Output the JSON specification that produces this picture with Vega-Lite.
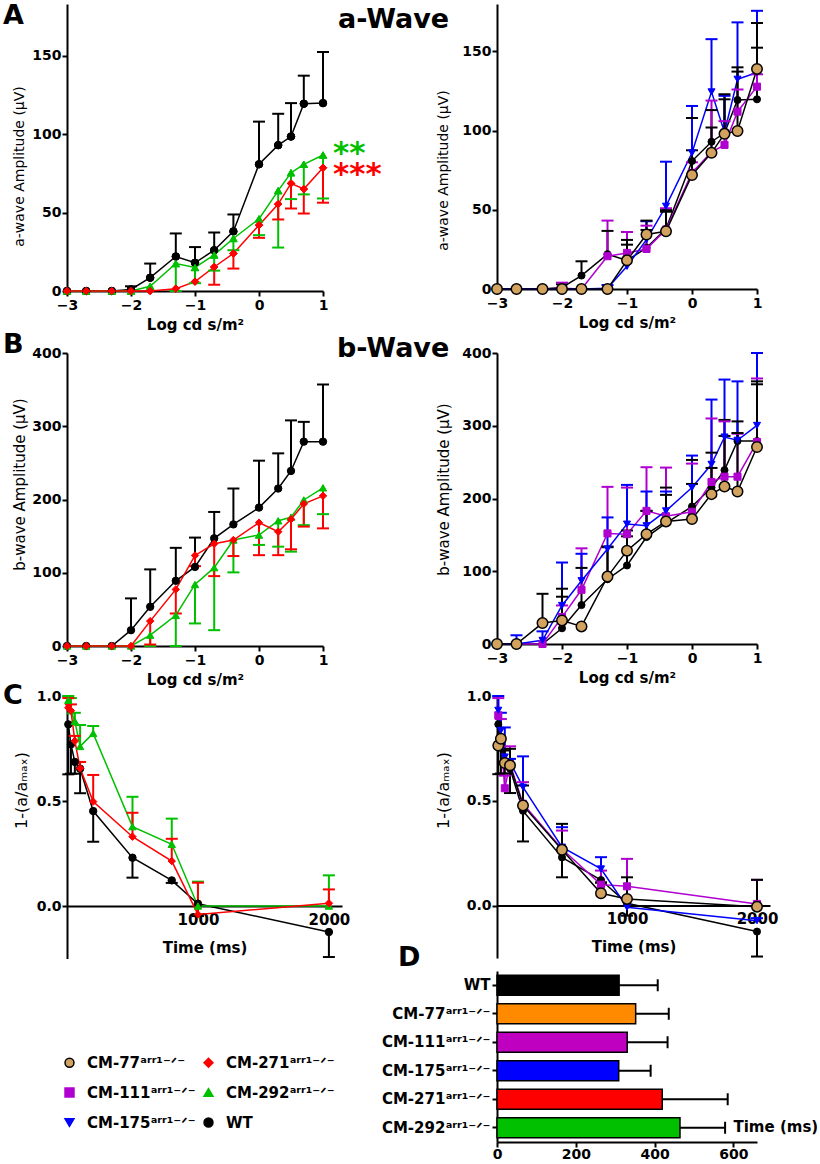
{
"$schema":"https://vega.github.io/schema/vega-lite/v6.json",
"padding":{"left":3,"top":2,"right":0,"bottom":0},
"autosize":{"type":"pad"},
"background":"white",
"columns":2,
"spacing":{"row":12,"column":155},
"bounds":"flush",
"align":"each",
"datasets":{
"awave":[
{"strain":"WT","x":-3,"y":0,"err":null},{"strain":"WT","x":-2.7,"y":0,"err":null},{"strain":"WT","x":-2.3,"y":0,"err":null},{"strain":"WT","x":-2,"y":1,"err":3},{"strain":"WT","x":-1.7,"y":8.5,"err":17.5},{"strain":"WT","x":-1.3,"y":22,"err":36.7},{"strain":"WT","x":-1,"y":18,"err":28},{"strain":"WT","x":-0.7,"y":26,"err":37.3},{"strain":"WT","x":-0.4,"y":38,"err":48.8},{"strain":"WT","x":0,"y":80.8,"err":108},{"strain":"WT","x":0.3,"y":93,"err":113},{"strain":"WT","x":0.5,"y":98.5,"err":119.8},{"strain":"WT","x":0.7,"y":119.4,"err":137.3},{"strain":"WT","x":1,"y":119.8,"err":152.4},
{"strain":"CM-111","x":-3,"y":0,"err":null},{"strain":"CM-111","x":-2.7,"y":0,"err":null},{"strain":"CM-111","x":-2.3,"y":0,"err":null},{"strain":"CM-111","x":-2,"y":0.5,"err":4},{"strain":"CM-111","x":-1.7,"y":0,"err":null},{"strain":"CM-111","x":-1.3,"y":20.7,"err":43.2},{"strain":"CM-111","x":-1,"y":22.8,"err":36},{"strain":"CM-111","x":-0.7,"y":25.3,"err":40},{"strain":"CM-111","x":-0.4,"y":37.5,"err":51},{"strain":"CM-111","x":0,"y":73.4,"err":80},{"strain":"CM-111","x":0.3,"y":86.5,"err":119},{"strain":"CM-111","x":0.5,"y":91,"err":106},{"strain":"CM-111","x":0.7,"y":112,"err":126},{"strain":"CM-111","x":1,"y":127.8,"err":135.6},
{"strain":"CM-175","x":-3,"y":0,"err":null},{"strain":"CM-175","x":-2.7,"y":0,"err":null},{"strain":"CM-175","x":-2.3,"y":0,"err":null},{"strain":"CM-175","x":-2,"y":0,"err":null},{"strain":"CM-175","x":-1.7,"y":0,"err":null},{"strain":"CM-175","x":-1.3,"y":0.5,"err":2.5},{"strain":"CM-175","x":-1,"y":14.3,"err":null},{"strain":"CM-175","x":-0.7,"y":31.2,"err":42.8},{"strain":"CM-175","x":-0.4,"y":52.3,"err":80.4},{"strain":"CM-175","x":0,"y":86,"err":115.6},{"strain":"CM-175","x":0.3,"y":124.5,"err":157.8},{"strain":"CM-175","x":0.5,"y":99,"err":122},{"strain":"CM-175","x":0.7,"y":132.5,"err":168.4},{"strain":"CM-175","x":1,"y":136.7,"err":175.7},
{"strain":"CM-292","x":-3,"y":0,"err":null},{"strain":"CM-292","x":-2.7,"y":0,"err":null},{"strain":"CM-292","x":-2.3,"y":0,"err":null},{"strain":"CM-292","x":-2,"y":0,"err":null},{"strain":"CM-292","x":-1.7,"y":3,"err":null},{"strain":"CM-292","x":-1.3,"y":17.5,"err":0},{"strain":"CM-292","x":-1,"y":15,"err":5},{"strain":"CM-292","x":-0.7,"y":23,"err":13},{"strain":"CM-292","x":-0.4,"y":33.5,"err":26},{"strain":"CM-292","x":0,"y":46,"err":35.6},{"strain":"CM-292","x":0.3,"y":64,"err":27.7},{"strain":"CM-292","x":0.5,"y":75.4,"err":58.6},{"strain":"CM-292","x":0.7,"y":80.8,"err":61.6},{"strain":"CM-292","x":1,"y":86.7,"err":59},
{"strain":"CM-271","x":-3,"y":0,"err":null},{"strain":"CM-271","x":-2.7,"y":0,"err":null},{"strain":"CM-271","x":-2.3,"y":0,"err":null},{"strain":"CM-271","x":-2,"y":0,"err":null},{"strain":"CM-271","x":-1.7,"y":0,"err":null},{"strain":"CM-271","x":-1.3,"y":1.5,"err":null},{"strain":"CM-271","x":-1,"y":6,"err":null},{"strain":"CM-271","x":-0.7,"y":15.3,"err":4},{"strain":"CM-271","x":-0.4,"y":23.9,"err":14.3},{"strain":"CM-271","x":0,"y":42,"err":33.9},{"strain":"CM-271","x":0.3,"y":55.4,"err":45.6},{"strain":"CM-271","x":0.5,"y":68.6,"err":52.6},{"strain":"CM-271","x":0.7,"y":65,"err":49.4},{"strain":"CM-271","x":1,"y":78.6,"err":56.3},
{"strain":"CM-77","x":-3,"y":0,"err":null},{"strain":"CM-77","x":-2.7,"y":0,"err":null},{"strain":"CM-77","x":-2.3,"y":0,"err":null},{"strain":"CM-77","x":-2,"y":0,"err":null},{"strain":"CM-77","x":-1.7,"y":0,"err":null},{"strain":"CM-77","x":-1.3,"y":0,"err":null},{"strain":"CM-77","x":-1,"y":18.1,"err":31},{"strain":"CM-77","x":-0.7,"y":34.4,"err":43.2},{"strain":"CM-77","x":-0.4,"y":36.5,"err":49.8},{"strain":"CM-77","x":0,"y":72,"err":87.6},{"strain":"CM-77","x":0.3,"y":86,"err":102},{"strain":"CM-77","x":0.5,"y":98,"err":123},{"strain":"CM-77","x":0.7,"y":99.8,"err":140},{"strain":"CM-77","x":1,"y":139,"err":168}
],
"bwave":[
{"strain":"WT","x":-3,"y":0,"err":null},{"strain":"WT","x":-2.7,"y":0,"err":null},{"strain":"WT","x":-2.3,"y":0,"err":null},{"strain":"WT","x":-2,"y":21.6,"err":65},{"strain":"WT","x":-1.7,"y":53.5,"err":104.6},{"strain":"WT","x":-1.3,"y":89,"err":134},{"strain":"WT","x":-1,"y":108,"err":148},{"strain":"WT","x":-0.7,"y":147,"err":183},{"strain":"WT","x":-0.4,"y":166,"err":215},{"strain":"WT","x":0,"y":189,"err":253},{"strain":"WT","x":0.3,"y":215,"err":263},{"strain":"WT","x":0.5,"y":239,"err":308},{"strain":"WT","x":0.7,"y":279,"err":306},{"strain":"WT","x":1,"y":279,"err":357},
{"strain":"CM-111","x":-3,"y":0,"err":null},{"strain":"CM-111","x":-2.7,"y":0,"err":null},{"strain":"CM-111","x":-2.3,"y":0,"err":null},{"strain":"CM-111","x":-2,"y":37,"err":53},{"strain":"CM-111","x":-1.7,"y":74.5,"err":131.5},{"strain":"CM-111","x":-1.3,"y":152,"err":216},{"strain":"CM-111","x":-1,"y":151,"err":215},{"strain":"CM-111","x":-0.7,"y":183,"err":243},{"strain":"CM-111","x":-0.4,"y":175.6,"err":242.5},{"strain":"CM-111","x":0,"y":181.7,"err":248},{"strain":"CM-111","x":0.3,"y":222.8,"err":310},{"strain":"CM-111","x":0.5,"y":230,"err":306},{"strain":"CM-111","x":0.7,"y":230,"err":289},{"strain":"CM-111","x":1,"y":277.6,"err":365},
{"strain":"CM-175","x":-3,"y":0,"err":null},{"strain":"CM-175","x":-2.7,"y":0,"err":12},{"strain":"CM-175","x":-2.3,"y":5,"err":17.4},{"strain":"CM-175","x":-2,"y":53,"err":112},{"strain":"CM-175","x":-1.7,"y":87,"err":124},{"strain":"CM-175","x":-1.3,"y":130.6,"err":174},{"strain":"CM-175","x":-1,"y":164.8,"err":218.7},{"strain":"CM-175","x":-0.7,"y":162.6,"err":209.6},{"strain":"CM-175","x":-0.4,"y":183,"err":209.6},{"strain":"CM-175","x":0,"y":215,"err":259},{"strain":"CM-175","x":0.3,"y":247,"err":336},{"strain":"CM-175","x":0.5,"y":284.5,"err":363.5},{"strain":"CM-175","x":0.7,"y":280,"err":361},{"strain":"CM-175","x":1,"y":300.5,"err":400},
{"strain":"CM-292","x":-3,"y":0,"err":null},{"strain":"CM-292","x":-2.7,"y":0,"err":null},{"strain":"CM-292","x":-2.3,"y":0,"err":null},{"strain":"CM-292","x":-2,"y":0,"err":null},{"strain":"CM-292","x":-1.7,"y":14.8,"err":0},{"strain":"CM-292","x":-1.3,"y":42,"err":0},{"strain":"CM-292","x":-1,"y":84,"err":30.8},{"strain":"CM-292","x":-0.7,"y":107,"err":21.6},{"strain":"CM-292","x":-0.4,"y":144.7,"err":100.5},{"strain":"CM-292","x":0,"y":151.5,"err":138},{"strain":"CM-292","x":0.3,"y":171,"err":135.6},{"strain":"CM-292","x":0.5,"y":175.7,"err":128.8},{"strain":"CM-292","x":0.7,"y":199.4,"err":165},{"strain":"CM-292","x":1,"y":216,"err":180},
{"strain":"CM-271","x":-3,"y":0,"err":null},{"strain":"CM-271","x":-2.7,"y":0,"err":null},{"strain":"CM-271","x":-2.3,"y":0,"err":null},{"strain":"CM-271","x":-2,"y":0,"err":null},{"strain":"CM-271","x":-1.7,"y":34,"err":2},{"strain":"CM-271","x":-1.3,"y":77.2,"err":44.4},{"strain":"CM-271","x":-1,"y":123.6,"err":109},{"strain":"CM-271","x":-0.7,"y":139.5,"err":95.4},{"strain":"CM-271","x":-0.4,"y":144.7,"err":122.8},{"strain":"CM-271","x":0,"y":168.4,"err":124},{"strain":"CM-271","x":0.3,"y":156,"err":124},{"strain":"CM-271","x":0.5,"y":173,"err":132},{"strain":"CM-271","x":0.7,"y":194,"err":163},{"strain":"CM-271","x":1,"y":205,"err":160.6},
{"strain":"CM-77","x":-3,"y":0,"err":null},{"strain":"CM-77","x":-2.7,"y":0,"err":null},{"strain":"CM-77","x":-2.3,"y":28.8,"err":69},{"strain":"CM-77","x":-2,"y":32.4,"err":76},{"strain":"CM-77","x":-1.7,"y":24.2,"err":null},{"strain":"CM-77","x":-1.3,"y":92.7,"err":133},{"strain":"CM-77","x":-1,"y":128.3,"err":156},{"strain":"CM-77","x":-0.7,"y":151,"err":183},{"strain":"CM-77","x":-0.4,"y":168.5,"err":205},{"strain":"CM-77","x":0,"y":171.7,"err":220},{"strain":"CM-77","x":0.3,"y":206,"err":242},{"strain":"CM-77","x":0.5,"y":216.4,"err":286},{"strain":"CM-77","x":0.7,"y":209.6,"err":290},{"strain":"CM-77","x":1,"y":270.8,"err":361}
],
"recovery":[
{"strain":"WT","t":10,"v":0.865,"e":0.627},{"strain":"WT","t":30,"v":0.77,"e":0.63},{"strain":"WT","t":60,"v":0.686,"e":0.63},{"strain":"WT","t":100,"v":0.654,"e":0.537},{"strain":"WT","t":200,"v":0.452,"e":0.306},{"strain":"WT","t":500,"v":0.23,"e":0.135},{"strain":"WT","t":800,"v":0.122,"e":0.11},{"strain":"WT","t":1000,"v":0.011,"e":-0.048},{"strain":"WT","t":2000,"v":-0.124,"e":-0.243},
{"strain":"CM-111","t":10,"v":0.908,"e":0.99},{"strain":"CM-111","t":30,"v":0.8,"e":0.89},{"strain":"CM-111","t":60,"v":0.56,"e":0.62},{"strain":"CM-111","t":100,"v":0.677,"e":0.76},{"strain":"CM-111","t":200,"v":0.486,"e":0.589},{"strain":"CM-111","t":500,"v":0.27,"e":0.358},{"strain":"CM-111","t":800,"v":0.1,"e":0.167},{"strain":"CM-111","t":1000,"v":0.092,"e":0.223},{"strain":"CM-111","t":2000,"v":0.008,"e":0.123},
{"strain":"CM-175","t":10,"v":0.932,"e":1.0},{"strain":"CM-175","t":30,"v":0.836,"e":0.92},{"strain":"CM-175","t":60,"v":0.709,"e":0.85},{"strain":"CM-175","t":100,"v":0.685,"e":0.7},{"strain":"CM-175","t":200,"v":0.565,"e":0.712},{"strain":"CM-175","t":500,"v":0.279,"e":0.374},{"strain":"CM-175","t":800,"v":0.175,"e":0.231},{"strain":"CM-175","t":1000,"v":-0.008,"e":null},{"strain":"CM-175","t":2000,"v":-0.072,"e":-0.06},
{"strain":"CM-292","t":10,"v":0.98,"e":1.0},{"strain":"CM-292","t":30,"v":0.93,"e":0.99},{"strain":"CM-292","t":60,"v":0.88,"e":0.92},{"strain":"CM-292","t":100,"v":0.76,"e":0.862},{"strain":"CM-292","t":200,"v":0.822,"e":0.857},{"strain":"CM-292","t":500,"v":0.378,"e":0.52},{"strain":"CM-292","t":800,"v":0.294,"e":0.416},{"strain":"CM-292","t":1000,"v":0,"e":0.116},{"strain":"CM-292","t":2000,"v":0,"e":0.146},
{"strain":"CM-271","t":10,"v":0.944,"e":0.99},{"strain":"CM-271","t":30,"v":0.93,"e":0.96},{"strain":"CM-271","t":60,"v":0.786,"e":0.81},{"strain":"CM-271","t":100,"v":0.656,"e":0.686},{"strain":"CM-271","t":200,"v":0.497,"e":0.624},{"strain":"CM-271","t":500,"v":0.33,"e":0.444},{"strain":"CM-271","t":800,"v":0.214,"e":0.32},{"strain":"CM-271","t":1000,"v":-0.04,"e":0.111},{"strain":"CM-271","t":2000,"v":0.013,"e":0.079},
{"strain":"CM-77","t":10,"v":0.764,"e":null},{"strain":"CM-77","t":30,"v":0.796,"e":null},{"strain":"CM-77","t":60,"v":0.68,"e":0.74},{"strain":"CM-77","t":100,"v":0.669,"e":0.748},{"strain":"CM-77","t":200,"v":0.478,"e":0.573},{"strain":"CM-77","t":500,"v":0.266,"e":0.39},{"strain":"CM-77","t":800,"v":0.059,"e":0.11},{"strain":"CM-77","t":1000,"v":0.032,"e":0.135},{"strain":"CM-77","t":2000,"v":-0.005,"e":0.123}
],
"halftime":[
{"group":"WT","mean":310,"err":408},{"group":"CM-77","mean":352,"err":436},{"group":"CM-111","mean":330.5,"err":433},{"group":"CM-175","mean":309,"err":390},{"group":"CM-271","mean":419.5,"err":585.6},{"group":"CM-292","mean":464.5,"err":579}
]
},
"concat":[
{
"width":256,"height":287,
"title":{"text":"A","anchor":"start","frame":"group","offset":0,"baseline":"alphabetic","dx":-64,"dy":47,"fontSize":27,"font":"DejaVu Sans","fontWeight":"bold","color":"#000000"},
"data":{"name":"awave"},
"encoding":{
"x":{"field":"x","type":"quantitative","scale":{"domain":[-3,1],"nice":false,"zero":false},"axis":{"values":[-3,-2,-1,0,1],"title":"Log cd s/m²","labelPadding":2,"titlePadding":5}},
"y":{"field":"y","type":"quantitative","scale":{"domain":[0,183],"nice":false},"axis":{"values":[0,50,100,150],"title":"a-wave Amplitude (µV)","titleFontSize":14,"titleX":-48,"titleY":162,"titleBaseline":"middle"}}
},
"layer":[
{"transform":[{"filter":{"field":"strain","oneOf":["WT","CM-292","CM-271"]}}],"mark":{"type":"point","filled":true,"opacity":1,"size":55,"strokeWidth":1},"encoding":{
"stroke":{"field":"strain","type":"nominal","scale":{"domain":["CM-77","CM-111","CM-175","CM-271","CM-292","WT"],"range":["#000000","#b000d0","#0000ff","#ff0000","#00c000","#000000"]},"legend":{"orient":"none","legendX":-5,"legendY":1051,"columns":2,"title":null,"labelExpr":"datum.label == 'WT' ? 'WT' : datum.label + 'ᵃʳʳ¹⁻ᐟ⁻'","labelFont":"DejaVu Sans","labelFontWeight":"bold","labelFontSize":15,"labelColor":"#000000","labelLimit":300,"labelOffset":10,"symbolSize":80,"symbolStrokeWidth":1.5,"rowPadding":14,"columnPadding":5,"padding":0}},
"fill":{"field":"strain","type":"nominal","scale":{"domain":["CM-77","CM-111","CM-175","CM-271","CM-292","WT"],"range":["#d2a35f","#b000d0","#0000ff","#ff0000","#00c000","#000000"]},"legend":{"orient":"none","legendX":-5,"legendY":1051,"columns":2,"title":null,"labelExpr":"datum.label == 'WT' ? 'WT' : datum.label + 'ᵃʳʳ¹⁻ᐟ⁻'","labelFont":"DejaVu Sans","labelFontWeight":"bold","labelFontSize":15,"labelColor":"#000000","labelLimit":300,"labelOffset":10,"symbolSize":80,"symbolStrokeWidth":1.5,"rowPadding":14,"columnPadding":5,"padding":0}},
"shape":{"field":"strain","type":"nominal","scale":{"domain":["CM-77","CM-111","CM-175","CM-271","CM-292","WT"],"range":["circle","square","triangle-down","diamond","triangle-up","circle"]},"legend":{"orient":"none","legendX":-5,"legendY":1051,"columns":2,"title":null,"labelExpr":"datum.label == 'WT' ? 'WT' : datum.label + 'ᵃʳʳ¹⁻ᐟ⁻'","labelFont":"DejaVu Sans","labelFontWeight":"bold","labelFontSize":15,"labelColor":"#000000","labelLimit":300,"labelOffset":10,"symbolSize":80,"symbolStrokeWidth":1.5,"rowPadding":14,"columnPadding":5,"padding":0}}}},
{"transform":[{"filter":{"field":"strain","oneOf":["WT","CM-292","CM-271"]}}],"mark":{"type":"line","strokeWidth":1.5},"encoding":{"stroke":{"field":"strain","type":"nominal","scale":{"domain":["CM-77","CM-111","CM-175","CM-271","CM-292","WT"],"range":["#000000","#b000d0","#0000ff","#ff0000","#00c000","#000000"]},"legend":null}}},
{"transform":[{"filter":{"field":"strain","oneOf":["WT","CM-292","CM-271"]}},{"filter":"isValid(datum.err)"}],"mark":{"type":"rule","strokeWidth":2},"encoding":{"y2":{"field":"err"},"stroke":{"field":"strain","type":"nominal","scale":{"domain":["CM-77","CM-111","CM-175","CM-271","CM-292","WT"],"range":["#000000","#b000d0","#0000ff","#ff0000","#00c000","#000000"]},"legend":null}}},
{"transform":[{"filter":{"field":"strain","oneOf":["WT","CM-292","CM-271"]}},{"filter":"isValid(datum.err)"}],"mark":{"type":"point","shape":"M-1,0H1","size":144,"strokeWidth":2,"opacity":1},"encoding":{"y":{"field":"err","type":"quantitative","scale":{"domain":[0,183],"nice":false},"axis":{"values":[0,50,100,150],"title":"a-wave Amplitude (µV)","titleFontSize":14,"titleX":-48,"titleY":162,"titleBaseline":"middle"}},"stroke":{"field":"strain","type":"nominal","scale":{"domain":["CM-77","CM-111","CM-175","CM-271","CM-292","WT"],"range":["#000000","#b000d0","#0000ff","#ff0000","#00c000","#000000"]},"legend":null}}},
{"transform":[{"filter":{"field":"strain","oneOf":["WT","CM-292","CM-271"]}}],"mark":{"type":"point","filled":true,"opacity":1,"size":55,"strokeWidth":1},"encoding":{"stroke":{"field":"strain","type":"nominal","scale":{"domain":["CM-77","CM-111","CM-175","CM-271","CM-292","WT"],"range":["#000000","#b000d0","#0000ff","#ff0000","#00c000","#000000"]},"legend":null},"fill":{"field":"strain","type":"nominal","scale":{"domain":["CM-77","CM-111","CM-175","CM-271","CM-292","WT"],"range":["#d2a35f","#b000d0","#0000ff","#ff0000","#00c000","#000000"]},"legend":null},"shape":{"field":"strain","type":"nominal","scale":{"domain":["CM-77","CM-111","CM-175","CM-271","CM-292","WT"],"range":["circle","square","triangle-down","diamond","triangle-up","circle"]},"legend":null}}},
{"data":{"values":[{"x":1,"y":86.7,"label":"**"}]},"mark":{"type":"text","align":"left","baseline":"alphabetic","dx":10,"dy":8,"font":"DejaVu Sans","fontWeight":"bold","fontSize":31,"fill":"#00c000"},"encoding":{"text":{"field":"label"}}},
{"data":{"values":[{"x":1,"y":78.6,"label":"***"}]},"mark":{"type":"text","align":"left","baseline":"alphabetic","dx":10,"dy":16,"font":"DejaVu Sans","fontWeight":"bold","fontSize":31,"fill":"#ff0000"},"encoding":{"text":{"field":"label"}}}
]
},
{
"width":260,"height":285,
"title":{"text":"a-Wave","anchor":"start","frame":"group","offset":0,"baseline":"alphabetic","dx":-159,"dy":51,"fontSize":27,"font":"DejaVu Sans","fontWeight":"bold","color":"#000000"},
"data":{"name":"awave"},
"encoding":{
"x":{"field":"x","type":"quantitative","scale":{"domain":[-3,1],"nice":false,"zero":false},"axis":{"values":[-3,-2,-1,0,1],"title":"Log cd s/m²","labelPadding":2,"titlePadding":5}},
"y":{"field":"y","type":"quantitative","scale":{"domain":[0,180],"nice":false},"axis":{"values":[0,50,100,150],"title":"a-wave Amplitude (µV)","titleFontSize":14,"titleX":-54,"titleY":166,"titleBaseline":"middle"}}
},
"layer":[
{"transform":[{"filter":{"field":"strain","oneOf":["WT","CM-111","CM-175","CM-77"]}}],"mark":{"type":"line","strokeWidth":1.5},"encoding":{"stroke":{"field":"strain","type":"nominal","scale":{"domain":["CM-77","CM-111","CM-175","CM-271","CM-292","WT"],"range":["#000000","#b000d0","#0000ff","#ff0000","#00c000","#000000"]},"legend":null}}},
{"transform":[{"filter":{"field":"strain","oneOf":["WT","CM-111","CM-175","CM-77"]}},{"filter":"isValid(datum.err)"}],"mark":{"type":"rule","strokeWidth":2},"encoding":{"y2":{"field":"err"},"stroke":{"field":"strain","type":"nominal","scale":{"domain":["CM-77","CM-111","CM-175","CM-271","CM-292","WT"],"range":["#000000","#b000d0","#0000ff","#ff0000","#00c000","#000000"]},"legend":null}}},
{"transform":[{"filter":{"field":"strain","oneOf":["WT","CM-111","CM-175","CM-77"]}},{"filter":"isValid(datum.err)"}],"mark":{"type":"point","shape":"M-1,0H1","size":144,"strokeWidth":2,"opacity":1},"encoding":{"y":{"field":"err","type":"quantitative","scale":{"domain":[0,180],"nice":false},"axis":{"values":[0,50,100,150],"title":"a-wave Amplitude (µV)","titleFontSize":14,"titleX":-54,"titleY":166,"titleBaseline":"middle"}},"stroke":{"field":"strain","type":"nominal","scale":{"domain":["CM-77","CM-111","CM-175","CM-271","CM-292","WT"],"range":["#000000","#b000d0","#0000ff","#ff0000","#00c000","#000000"]},"legend":null}}},
{"transform":[{"filter":{"field":"strain","oneOf":["WT","CM-111","CM-175"]}}],"mark":{"type":"point","filled":true,"opacity":1,"size":50,"strokeWidth":1},"encoding":{"stroke":{"field":"strain","type":"nominal","scale":{"domain":["CM-77","CM-111","CM-175","CM-271","CM-292","WT"],"range":["#000000","#b000d0","#0000ff","#ff0000","#00c000","#000000"]},"legend":null},"fill":{"field":"strain","type":"nominal","scale":{"domain":["CM-77","CM-111","CM-175","CM-271","CM-292","WT"],"range":["#d2a35f","#b000d0","#0000ff","#ff0000","#00c000","#000000"]},"legend":null},"shape":{"field":"strain","type":"nominal","scale":{"domain":["CM-77","CM-111","CM-175","CM-271","CM-292","WT"],"range":["circle","square","triangle-down","diamond","triangle-up","circle"]},"legend":null}}},
{"transform":[{"filter":{"field":"strain","oneOf":["CM-77"]}}],"mark":{"type":"point","filled":true,"opacity":1,"size":110,"strokeWidth":1.5},"encoding":{"stroke":{"field":"strain","type":"nominal","scale":{"domain":["CM-77","CM-111","CM-175","CM-271","CM-292","WT"],"range":["#000000","#b000d0","#0000ff","#ff0000","#00c000","#000000"]},"legend":null},"fill":{"field":"strain","type":"nominal","scale":{"domain":["CM-77","CM-111","CM-175","CM-271","CM-292","WT"],"range":["#d2a35f","#b000d0","#0000ff","#ff0000","#00c000","#000000"]},"legend":null},"shape":{"field":"strain","type":"nominal","scale":{"domain":["CM-77","CM-111","CM-175","CM-271","CM-292","WT"],"range":["circle","square","triangle-down","diamond","triangle-up","circle"]},"legend":null}}}
]
},
{"width":1,"height":37.5,"data":{"values":[]},"mark":"point","encoding":{}},
{"width":1,"height":1,"data":{"values":[]},"mark":"point","encoding":{}},
{
"width":256,"height":293,
"title":{"text":"B","anchor":"start","frame":"group","offset":0,"baseline":"alphabetic","dx":-64,"dy":33.5,"fontSize":27,"font":"DejaVu Sans","fontWeight":"bold","color":"#000000"},
"data":{"name":"bwave"},
"encoding":{
"x":{"field":"x","type":"quantitative","scale":{"domain":[-3,1],"nice":false,"zero":false},"axis":{"values":[-3,-2,-1,0,1],"title":"Log cd s/m²","labelPadding":2,"titlePadding":5}},
"y":{"field":"y","type":"quantitative","scale":{"domain":[0,400],"nice":false},"axis":{"values":[0,100,200,300,400],"title":"b-wave Amplitude (µV)","titleFontSize":15,"titleX":-48,"titleY":131,"titleBaseline":"middle"}}
},
"layer":[
{"transform":[{"filter":{"field":"strain","oneOf":["WT","CM-292","CM-271"]}}],"mark":{"type":"line","strokeWidth":1.5},"encoding":{"stroke":{"field":"strain","type":"nominal","scale":{"domain":["CM-77","CM-111","CM-175","CM-271","CM-292","WT"],"range":["#000000","#b000d0","#0000ff","#ff0000","#00c000","#000000"]},"legend":null}}},
{"transform":[{"filter":{"field":"strain","oneOf":["WT","CM-292","CM-271"]}},{"filter":"isValid(datum.err)"}],"mark":{"type":"rule","strokeWidth":2},"encoding":{"y2":{"field":"err"},"stroke":{"field":"strain","type":"nominal","scale":{"domain":["CM-77","CM-111","CM-175","CM-271","CM-292","WT"],"range":["#000000","#b000d0","#0000ff","#ff0000","#00c000","#000000"]},"legend":null}}},
{"transform":[{"filter":{"field":"strain","oneOf":["WT","CM-292","CM-271"]}},{"filter":"isValid(datum.err)"}],"mark":{"type":"point","shape":"M-1,0H1","size":144,"strokeWidth":2,"opacity":1},"encoding":{"y":{"field":"err","type":"quantitative","scale":{"domain":[0,400],"nice":false},"axis":{"values":[0,100,200,300,400],"title":"b-wave Amplitude (µV)","titleFontSize":15,"titleX":-48,"titleY":131,"titleBaseline":"middle"}},"stroke":{"field":"strain","type":"nominal","scale":{"domain":["CM-77","CM-111","CM-175","CM-271","CM-292","WT"],"range":["#000000","#b000d0","#0000ff","#ff0000","#00c000","#000000"]},"legend":null}}},
{"transform":[{"filter":{"field":"strain","oneOf":["WT","CM-292","CM-271"]}}],"mark":{"type":"point","filled":true,"opacity":1,"size":55,"strokeWidth":1},"encoding":{"stroke":{"field":"strain","type":"nominal","scale":{"domain":["CM-77","CM-111","CM-175","CM-271","CM-292","WT"],"range":["#000000","#b000d0","#0000ff","#ff0000","#00c000","#000000"]},"legend":null},"fill":{"field":"strain","type":"nominal","scale":{"domain":["CM-77","CM-111","CM-175","CM-271","CM-292","WT"],"range":["#d2a35f","#b000d0","#0000ff","#ff0000","#00c000","#000000"]},"legend":null},"shape":{"field":"strain","type":"nominal","scale":{"domain":["CM-77","CM-111","CM-175","CM-271","CM-292","WT"],"range":["circle","square","triangle-down","diamond","triangle-up","circle"]},"legend":null}}}
]
},
{
"width":260,"height":291,
"title":{"text":"b-Wave","anchor":"start","frame":"group","offset":0,"baseline":"alphabetic","dx":-160,"dy":37.5,"fontSize":27,"font":"DejaVu Sans","fontWeight":"bold","color":"#000000"},
"data":{"name":"bwave"},
"encoding":{
"x":{"field":"x","type":"quantitative","scale":{"domain":[-3,1],"nice":false,"zero":false},"axis":{"values":[-3,-2,-1,0,1],"title":"Log cd s/m²","labelPadding":2,"titlePadding":5}},
"y":{"field":"y","type":"quantitative","scale":{"domain":[0,400],"nice":false},"axis":{"values":[0,100,200,300,400],"title":"b-wave Amplitude (µV)","titleFontSize":15,"titleX":-54,"titleY":136,"titleBaseline":"middle"}}
},
"layer":[
{"transform":[{"filter":{"field":"strain","oneOf":["WT","CM-111","CM-175","CM-77"]}}],"mark":{"type":"line","strokeWidth":1.5},"encoding":{"stroke":{"field":"strain","type":"nominal","scale":{"domain":["CM-77","CM-111","CM-175","CM-271","CM-292","WT"],"range":["#000000","#b000d0","#0000ff","#ff0000","#00c000","#000000"]},"legend":null}}},
{"transform":[{"filter":{"field":"strain","oneOf":["WT","CM-111","CM-175","CM-77"]}},{"filter":"isValid(datum.err)"}],"mark":{"type":"rule","strokeWidth":2},"encoding":{"y2":{"field":"err"},"stroke":{"field":"strain","type":"nominal","scale":{"domain":["CM-77","CM-111","CM-175","CM-271","CM-292","WT"],"range":["#000000","#b000d0","#0000ff","#ff0000","#00c000","#000000"]},"legend":null}}},
{"transform":[{"filter":{"field":"strain","oneOf":["WT","CM-111","CM-175","CM-77"]}},{"filter":"isValid(datum.err)"}],"mark":{"type":"point","shape":"M-1,0H1","size":144,"strokeWidth":2,"opacity":1},"encoding":{"y":{"field":"err","type":"quantitative","scale":{"domain":[0,400],"nice":false},"axis":{"values":[0,100,200,300,400],"title":"b-wave Amplitude (µV)","titleFontSize":15,"titleX":-54,"titleY":136,"titleBaseline":"middle"}},"stroke":{"field":"strain","type":"nominal","scale":{"domain":["CM-77","CM-111","CM-175","CM-271","CM-292","WT"],"range":["#000000","#b000d0","#0000ff","#ff0000","#00c000","#000000"]},"legend":null}}},
{"transform":[{"filter":{"field":"strain","oneOf":["WT","CM-111","CM-175"]}}],"mark":{"type":"point","filled":true,"opacity":1,"size":50,"strokeWidth":1},"encoding":{"stroke":{"field":"strain","type":"nominal","scale":{"domain":["CM-77","CM-111","CM-175","CM-271","CM-292","WT"],"range":["#000000","#b000d0","#0000ff","#ff0000","#00c000","#000000"]},"legend":null},"fill":{"field":"strain","type":"nominal","scale":{"domain":["CM-77","CM-111","CM-175","CM-271","CM-292","WT"],"range":["#d2a35f","#b000d0","#0000ff","#ff0000","#00c000","#000000"]},"legend":null},"shape":{"field":"strain","type":"nominal","scale":{"domain":["CM-77","CM-111","CM-175","CM-271","CM-292","WT"],"range":["circle","square","triangle-down","diamond","triangle-up","circle"]},"legend":null}}},
{"transform":[{"filter":{"field":"strain","oneOf":["CM-77"]}}],"mark":{"type":"point","filled":true,"opacity":1,"size":110,"strokeWidth":1.5},"encoding":{"stroke":{"field":"strain","type":"nominal","scale":{"domain":["CM-77","CM-111","CM-175","CM-271","CM-292","WT"],"range":["#000000","#b000d0","#0000ff","#ff0000","#00c000","#000000"]},"legend":null},"fill":{"field":"strain","type":"nominal","scale":{"domain":["CM-77","CM-111","CM-175","CM-271","CM-292","WT"],"range":["#d2a35f","#b000d0","#0000ff","#ff0000","#00c000","#000000"]},"legend":null},"shape":{"field":"strain","type":"nominal","scale":{"domain":["CM-77","CM-111","CM-175","CM-271","CM-292","WT"],"range":["circle","square","triangle-down","diamond","triangle-up","circle"]},"legend":null}}}
]
},
{"width":1,"height":25.5,"data":{"values":[]},"mark":"point","encoding":{}},
{"width":1,"height":1,"data":{"values":[]},"mark":"point","encoding":{}},
{
"width":275,"height":262.5,
"title":{"text":"C","anchor":"start","frame":"group","offset":0,"baseline":"alphabetic","dx":-64,"dy":41.7,"fontSize":27,"font":"DejaVu Sans","fontWeight":"bold","color":"#000000"},
"data":{"name":"recovery"},
"encoding":{
"x":{"field":"t","type":"quantitative","scale":{"domain":[0,2100],"nice":false,"zero":false},"axis":{"values":[1000,2000],"format":"d","offset":-52.5,"ticks":false,"labelPadding":6,"labelFontSize":15,"title":"Time (ms)","titlePadding":13}},
"y":{"field":"v","type":"quantitative","scale":{"domain":[-0.25,1],"nice":false,"zero":false},"axis":{"values":[0,0.5,1],"format":".1f","title":"1-(a/aₘₐₓ)","titleFontSize":16,"titleX":-46,"titleY":94,"titleBaseline":"middle"}}
},
"layer":[
{"transform":[{"filter":{"field":"strain","oneOf":["WT","CM-292","CM-271"]}}],"mark":{"type":"line","strokeWidth":1.5},"encoding":{"stroke":{"field":"strain","type":"nominal","scale":{"domain":["CM-77","CM-111","CM-175","CM-271","CM-292","WT"],"range":["#000000","#b000d0","#0000ff","#ff0000","#00c000","#000000"]},"legend":null}}},
{"transform":[{"filter":{"field":"strain","oneOf":["WT","CM-292","CM-271"]}},{"filter":"isValid(datum.e)"}],"mark":{"type":"rule","strokeWidth":2},"encoding":{"y2":{"field":"e"},"stroke":{"field":"strain","type":"nominal","scale":{"domain":["CM-77","CM-111","CM-175","CM-271","CM-292","WT"],"range":["#000000","#b000d0","#0000ff","#ff0000","#00c000","#000000"]},"legend":null}}},
{"transform":[{"filter":{"field":"strain","oneOf":["WT","CM-292","CM-271"]}},{"filter":"isValid(datum.e)"}],"mark":{"type":"point","shape":"M-1,0H1","size":144,"strokeWidth":2,"opacity":1},"encoding":{"y":{"field":"e","type":"quantitative","scale":{"domain":[-0.25,1],"nice":false,"zero":false},"axis":{"values":[0,0.5,1],"format":".1f","title":"1-(a/aₘₐₓ)","titleFontSize":16,"titleX":-46,"titleY":94,"titleBaseline":"middle"}},"stroke":{"field":"strain","type":"nominal","scale":{"domain":["CM-77","CM-111","CM-175","CM-271","CM-292","WT"],"range":["#000000","#b000d0","#0000ff","#ff0000","#00c000","#000000"]},"legend":null}}},
{"transform":[{"filter":{"field":"strain","oneOf":["WT","CM-292","CM-271"]}}],"mark":{"type":"point","filled":true,"opacity":1,"size":55,"strokeWidth":1},"encoding":{"stroke":{"field":"strain","type":"nominal","scale":{"domain":["CM-77","CM-111","CM-175","CM-271","CM-292","WT"],"range":["#000000","#b000d0","#0000ff","#ff0000","#00c000","#000000"]},"legend":null},"fill":{"field":"strain","type":"nominal","scale":{"domain":["CM-77","CM-111","CM-175","CM-271","CM-292","WT"],"range":["#d2a35f","#b000d0","#0000ff","#ff0000","#00c000","#000000"]},"legend":null},"shape":{"field":"strain","type":"nominal","scale":{"domain":["CM-77","CM-111","CM-175","CM-271","CM-292","WT"],"range":["circle","square","triangle-down","diamond","triangle-up","circle"]},"legend":null}}}
]
},
{
"width":273,"height":262,
"data":{"name":"recovery"},
"encoding":{
"x":{"field":"t","type":"quantitative","scale":{"domain":[0,2100],"nice":false,"zero":false},"axis":{"values":[1000,2000],"format":"d","offset":-52.4,"ticks":false,"labelPadding":6,"labelFontSize":15,"title":"Time (ms)","titlePadding":13}},
"y":{"field":"v","type":"quantitative","scale":{"domain":[-0.25,1],"nice":false,"zero":false},"axis":{"values":[0,0.5,1],"format":".1f","title":"1-(a/aₘₐₓ)","titleFontSize":16,"titleX":-54,"titleY":94,"titleBaseline":"middle"}}
},
"layer":[
{"transform":[{"filter":{"field":"strain","oneOf":["WT","CM-111","CM-175","CM-77"]}}],"mark":{"type":"line","strokeWidth":1.5},"encoding":{"stroke":{"field":"strain","type":"nominal","scale":{"domain":["CM-77","CM-111","CM-175","CM-271","CM-292","WT"],"range":["#000000","#b000d0","#0000ff","#ff0000","#00c000","#000000"]},"legend":null}}},
{"transform":[{"filter":{"field":"strain","oneOf":["WT","CM-111","CM-175","CM-77"]}},{"filter":"isValid(datum.e)"}],"mark":{"type":"rule","strokeWidth":2},"encoding":{"y2":{"field":"e"},"stroke":{"field":"strain","type":"nominal","scale":{"domain":["CM-77","CM-111","CM-175","CM-271","CM-292","WT"],"range":["#000000","#b000d0","#0000ff","#ff0000","#00c000","#000000"]},"legend":null}}},
{"transform":[{"filter":{"field":"strain","oneOf":["WT","CM-111","CM-175","CM-77"]}},{"filter":"isValid(datum.e)"}],"mark":{"type":"point","shape":"M-1,0H1","size":144,"strokeWidth":2,"opacity":1},"encoding":{"y":{"field":"e","type":"quantitative","scale":{"domain":[-0.25,1],"nice":false,"zero":false},"axis":{"values":[0,0.5,1],"format":".1f","title":"1-(a/aₘₐₓ)","titleFontSize":16,"titleX":-54,"titleY":94,"titleBaseline":"middle"}},"stroke":{"field":"strain","type":"nominal","scale":{"domain":["CM-77","CM-111","CM-175","CM-271","CM-292","WT"],"range":["#000000","#b000d0","#0000ff","#ff0000","#00c000","#000000"]},"legend":null}}},
{"transform":[{"filter":{"field":"strain","oneOf":["WT","CM-111","CM-175"]}}],"mark":{"type":"point","filled":true,"opacity":1,"size":50,"strokeWidth":1},"encoding":{"stroke":{"field":"strain","type":"nominal","scale":{"domain":["CM-77","CM-111","CM-175","CM-271","CM-292","WT"],"range":["#000000","#b000d0","#0000ff","#ff0000","#00c000","#000000"]},"legend":null},"fill":{"field":"strain","type":"nominal","scale":{"domain":["CM-77","CM-111","CM-175","CM-271","CM-292","WT"],"range":["#d2a35f","#b000d0","#0000ff","#ff0000","#00c000","#000000"]},"legend":null},"shape":{"field":"strain","type":"nominal","scale":{"domain":["CM-77","CM-111","CM-175","CM-271","CM-292","WT"],"range":["circle","square","triangle-down","diamond","triangle-up","circle"]},"legend":null}}},
{"transform":[{"filter":{"field":"strain","oneOf":["CM-77"]}}],"mark":{"type":"point","filled":true,"opacity":1,"size":110,"strokeWidth":1.5},"encoding":{"stroke":{"field":"strain","type":"nominal","scale":{"domain":["CM-77","CM-111","CM-175","CM-271","CM-292","WT"],"range":["#000000","#b000d0","#0000ff","#ff0000","#00c000","#000000"]},"legend":null},"fill":{"field":"strain","type":"nominal","scale":{"domain":["CM-77","CM-111","CM-175","CM-271","CM-292","WT"],"range":["#d2a35f","#b000d0","#0000ff","#ff0000","#00c000","#000000"]},"legend":null},"shape":{"field":"strain","type":"nominal","scale":{"domain":["CM-77","CM-111","CM-175","CM-271","CM-292","WT"],"range":["circle","square","triangle-down","diamond","triangle-up","circle"]},"legend":null}}}
]
},
{"width":1,"height":1,"data":{"values":[]},"mark":"point","encoding":{}},
{
"width":260,"height":171,
"title":{"text":"D","anchor":"start","frame":"group","offset":0,"baseline":"alphabetic","dx":-99,"dy":21.5,"fontSize":27,"font":"DejaVu Sans","fontWeight":"bold","color":"#000000"},
"data":{"name":"halftime"},
"encoding":{
"y":{"field":"group","type":"nominal","sort":["WT","CM-77","CM-111","CM-175","CM-271","CM-292"],"scale":{"paddingInner":0.3,"paddingOuter":0.15},"axis":{"title":null,"labelFontSize":15,"labelPadding":2,"labelExpr":"datum.value == 'WT' ? 'WT' : datum.value + 'ᵃʳʳ¹⁻ᐟ⁻'"}},
"x":{"field":"mean","type":"quantitative","scale":{"domain":[0,660],"nice":false},"axis":{"values":[0,200,400,600],"title":"Time (ms)","titleX":236,"titleY":-11,"titleAlign":"left","titleBaseline":"alphabetic","labelPadding":0}}
},
"layer":[
{"mark":{"type":"bar","stroke":"#000000","strokeWidth":1.5},"encoding":{"color":{"field":"group","type":"nominal","scale":{"domain":["WT","CM-77","CM-111","CM-175","CM-271","CM-292"],"range":["#000000","#ff8a00","#c000c0","#0000ff","#ff0000","#00c000"]},"legend":null}}},
{"mark":{"type":"rule","strokeWidth":2,"color":"#000000"},"encoding":{"x2":{"field":"err"}}},
{"mark":{"type":"point","shape":"M0,-1V1","size":144,"strokeWidth":2,"color":"#000000","opacity":1},"encoding":{"x":{"field":"err","type":"quantitative","scale":{"domain":[0,660],"nice":false},"axis":{"values":[0,200,400,600],"title":"Time (ms)","titleX":236,"titleY":-11,"titleAlign":"left","titleBaseline":"alphabetic","labelPadding":0}}}}
]
}
],
"config":{
"view":{"stroke":null},
"axis":{"grid":false,"domainColor":"#000000","domainWidth":2,"tickColor":"#000000","tickWidth":2,"tickSize":5,"labelFont":"DejaVu Sans","labelFontWeight":"bold","labelFontSize":14,"labelColor":"#000000","labelFlush":false,"labelOverlap":false,"labelPadding":1,"titleFont":"DejaVu Sans","titleColor":"#000000","titleFontWeight":"bold","titleFontSize":15},
"axisY":{"titleFontWeight":"normal"}
}
}
